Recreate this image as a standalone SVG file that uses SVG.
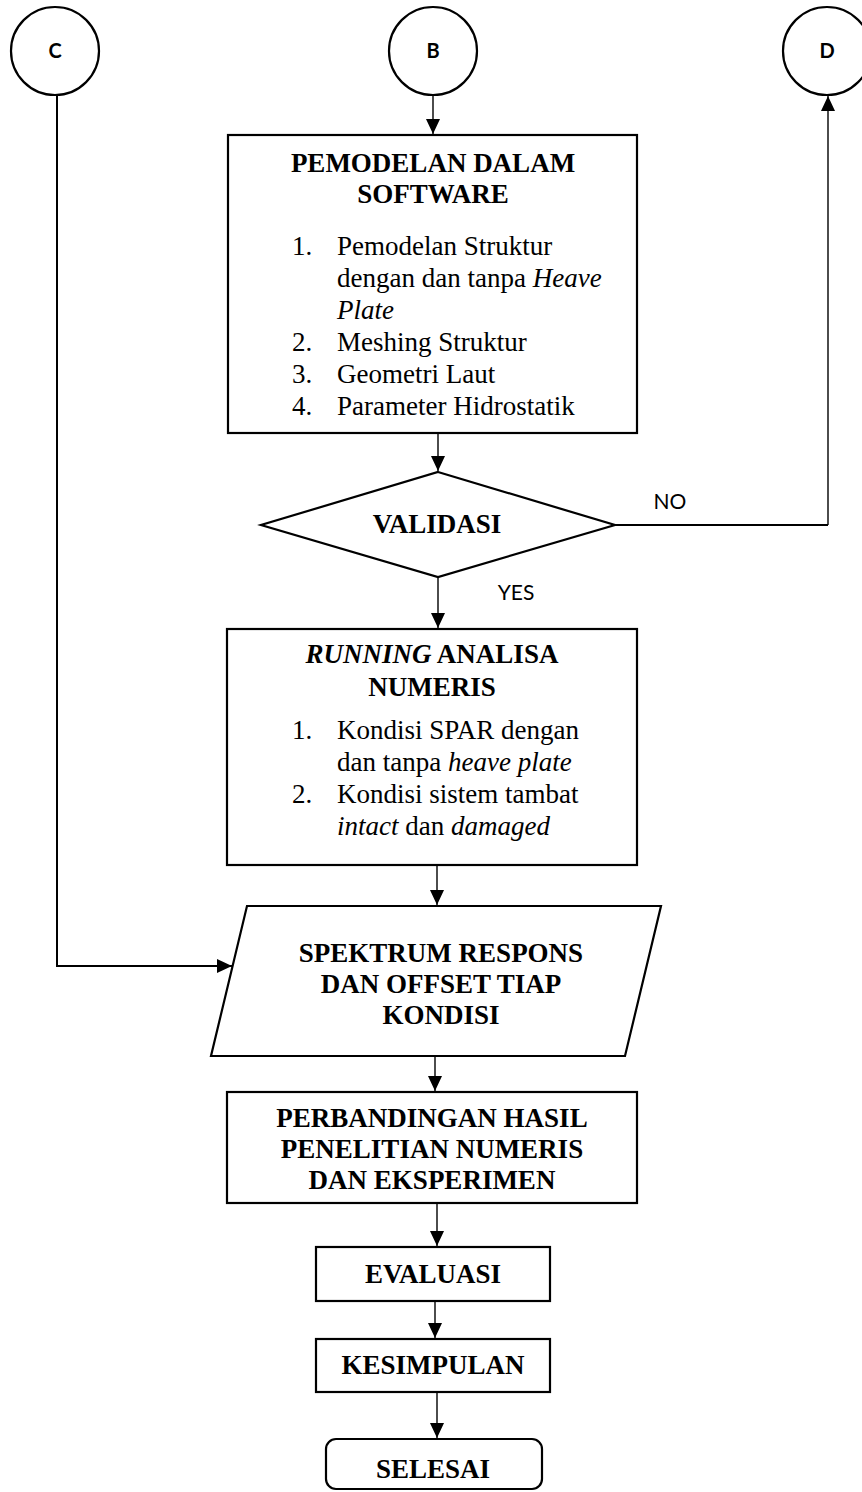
<svg xmlns="http://www.w3.org/2000/svg" width="862" height="1492" viewBox="0 0 862 1492">
<style>
.shape{fill:#fff;stroke:#000;stroke-width:2.2}
.con{fill:none;stroke:#000;stroke-width:1.4}
.thick{stroke-width:2}
.t{font-family:"Liberation Serif","Times New Roman",serif;font-size:27px;fill:#000}
.b{font-weight:bold}
.c{text-anchor:middle}
.i{font-style:italic}
.s{font-family:Lato,"Liberation Sans",sans-serif;fill:#000}
</style>
<defs>
<marker id="ah" markerUnits="userSpaceOnUse" markerWidth="15" markerHeight="14" refX="15" refY="7" orient="auto" viewBox="0 0 15 14">
<path d="M0,0 L15,7 L0,14 Z" fill="#000"/>
</marker>
</defs>
<rect width="862" height="1492" fill="#fff"/>
<g id="connectors">
<path class="con" d="M433,95 V134" marker-end="url(#ah)"/>
<path class="con" d="M438,433 V471" marker-end="url(#ah)"/>
<path class="con thick" d="M615,525 H828"/>
<path class="con" d="M828,525 V96" marker-end="url(#ah)"/>
<path class="con" d="M438,577 V628" marker-end="url(#ah)"/>
<path class="con" d="M437,865 V905" marker-end="url(#ah)"/>
<path class="con thick" d="M57,95 V966 H232" marker-end="url(#ah)"/>
<path class="con" d="M435,1056 V1091" marker-end="url(#ah)"/>
<path class="con" d="M437,1203 V1246" marker-end="url(#ah)"/>
<path class="con" d="M435,1301 V1338" marker-end="url(#ah)"/>
<path class="con" d="M437,1392 V1438" marker-end="url(#ah)"/>
<text class="s" x="670" y="509" font-size="21" text-anchor="middle">NO</text>
<text class="s" x="516" y="600" font-size="21" text-anchor="middle">YES</text>
</g>
<g id="nodeC">
<circle class="shape" cx="55" cy="51" r="44"/>
<text class="s c" x="55" y="58" font-size="20" font-weight="bold">C</text>
</g>
<g id="nodeB">
<circle class="shape" cx="433" cy="51" r="44"/>
<text class="s c" x="433" y="58" font-size="20" font-weight="bold">B</text>
</g>
<g id="nodeD">
<circle class="shape" cx="827" cy="51" r="44"/>
<text class="s c" x="827" y="58" font-size="20" font-weight="bold">D</text>
</g>
<g id="pemodelan">
<rect class="shape" x="228" y="135" width="409" height="298"/>
<text class="t b c" x="433" y="172">PEMODELAN DALAM</text>
<text class="t b c" x="433" y="203">SOFTWARE</text>
<text class="t" x="292" y="255">1.</text>
<text class="t" x="337" y="255">Pemodelan Struktur</text>
<text class="t" x="337" y="287">dengan dan tanpa <tspan class="i">Heave</tspan></text>
<text class="t" x="337" y="319"><tspan class="i">Plate</tspan></text>
<text class="t" x="292" y="351">2.</text>
<text class="t" x="337" y="351">Meshing Struktur</text>
<text class="t" x="292" y="383">3.</text>
<text class="t" x="337" y="383">Geometri Laut</text>
<text class="t" x="292" y="415">4.</text>
<text class="t" x="337" y="415">Parameter Hidrostatik</text>
</g>
<g id="validasi">
<polygon class="shape" points="438,472 615,525 438,577 261,525"/>
<text class="t b c" x="437" y="533">VALIDASI</text>
</g>
<g id="running">
<rect class="shape" x="227" y="629" width="410" height="236"/>
<text class="t b c" x="432" y="663"><tspan class="i">RUNNING</tspan> ANALISA</text>
<text class="t b c" x="432" y="696">NUMERIS</text>
<text class="t" x="292" y="739">1.</text>
<text class="t" x="337" y="739">Kondisi SPAR dengan</text>
<text class="t" x="337" y="771">dan tanpa <tspan class="i">heave plate</tspan></text>
<text class="t" x="292" y="803">2.</text>
<text class="t" x="337" y="803">Kondisi sistem tambat</text>
<text class="t" x="337" y="835"><tspan class="i">intact</tspan> dan <tspan class="i">damaged</tspan></text>
</g>
<g id="spektrum">
<polygon class="shape" points="247,906 661,906 625,1056 211,1056"/>
<text class="t b c" x="441" y="962">SPEKTRUM RESPONS</text>
<text class="t b c" x="441" y="993">DAN OFFSET TIAP</text>
<text class="t b c" x="441" y="1024">KONDISI</text>
</g>
<g id="perbandingan">
<rect class="shape" x="227" y="1092" width="410" height="111"/>
<text class="t b c" x="432" y="1127">PERBANDINGAN HASIL</text>
<text class="t b c" x="432" y="1158">PENELITIAN NUMERIS</text>
<text class="t b c" x="432" y="1189">DAN EKSPERIMEN</text>
</g>
<g id="evaluasi">
<rect class="shape" x="316" y="1247" width="234" height="54"/>
<text class="t b c" x="433" y="1283">EVALUASI</text>
</g>
<g id="kesimpulan">
<rect class="shape" x="316" y="1339" width="234" height="53"/>
<text class="t b c" x="433" y="1374">KESIMPULAN</text>
</g>
<g id="selesai">
<rect class="shape" x="326" y="1439" width="216" height="50" rx="10"/>
<text class="t b c" x="433" y="1478">SELESAI</text>
</g>
</svg>
